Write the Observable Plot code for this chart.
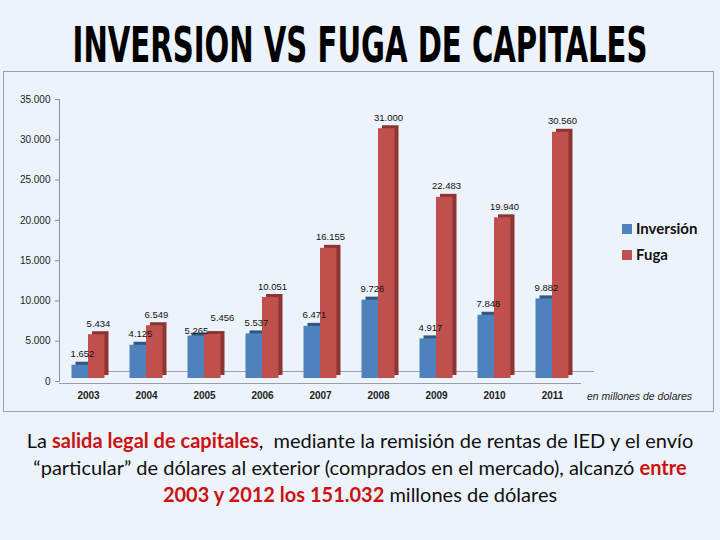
<!DOCTYPE html>
<html><head><meta charset="utf-8">
<script src="https://cdn.jsdelivr.net/npm/d3@7"></script>
<script src="https://cdn.jsdelivr.net/npm/@observablehq/plot@0.6"></script>
<style>
html,body{margin:0;padding:0;}
body{width:720px;height:540px;background:#edf3fa;position:relative;overflow:hidden;font-family:Lato,"Open Sans",sans-serif;}
#title{position:absolute;top:26px;left:0;width:720px;text-align:center;}
#title span{display:inline-block;font-family:"DejaVu Sans Condensed",sans-serif;font-weight:bold;font-size:32.4px;transform:scale(1,1.55);color:#000;}
#box{position:absolute;left:3px;top:71px;width:709px;height:339px;border:1px solid #9aa3ad;}
#chart{position:absolute;left:0;top:0;}
.leg{position:absolute;font-family:Lato,"Open Sans",sans-serif;font-weight:bold;font-size:15px;color:#111;white-space:nowrap;}
.leg i{display:inline-block;width:10px;height:10px;margin-right:4px;vertical-align:0px;}
#note{position:absolute;left:583px;top:318px;font-family:"Liberation Sans","DejaVu Sans",sans-serif;font-style:italic;font-size:10.5px;color:#222;white-space:nowrap;}
#caption{position:absolute;top:427px;left:0;width:720px;text-align:center;font-size:20px;line-height:27px;color:#111;white-space:nowrap;}
#caption b{color:#cc1111;}
</style></head>
<body>
<div id="title"><span>INVERSION VS FUGA DE CAPITALES</span></div>
<div id="box"><div id="chart"></div>
<div class="leg" style="left:618px;top:147px;"><i style="background:#4f81bd"></i>Inversión</div>
<div class="leg" style="left:618px;top:173px;"><i style="background:#c0504d"></i>Fuga</div>
<div id="note">en millones de dolares</div>
</div>
<div id="caption">La <b>salida legal de capitales</b>,&nbsp; mediante la remisión de rentas de IED y el envío<br>“particular” de dólares al exterior (comprados en el mercado), alcanzó <b>entre</b><br><b>2003 y 2012 los 151.032</b> millones de dólares</div>
<script>
const years = ["2003","2004","2005","2006","2007","2008","2009","2010","2011"];
const inversion = [1652, 4125, 5265, 5537, 6471, 9726, 4917, 7848, 9882];
const fuga = [5434, 6549, 5456, 10051, 16155, 31000, 22483, 19940, 30560];
const yTicks = [0, 5000, 10000, 15000, 20000, 25000, 30000, 35000];

const data = years.map((y, i) => ({year: y, inv: inversion[i], fuga: fuga[i]}));
const fmt = d3.formatLocale({decimal: ",", thousands: ".", grouping: [3], currency: ["$", ""]}).format(",d");
const close = d => Math.abs(d.fuga - d.inv) < 1500;
const apart = d => !close(d);

const chart = Plot.plot({
  width: 709, height: 339,
  marginTop: 27, marginBottom: 30, marginLeft: 55, marginRight: 132,
  style: {background: "transparent", fontFamily: "'Liberation Sans','DejaVu Sans',sans-serif", fontSize: "10px", color: "#222"},
  x: {domain: years, padding: 0, label: null},
  y: {domain: [0, 35000], label: null},
  marks: [
    Plot.frame({anchor: "left", stroke: "#8a9099"}),
    Plot.ruleY([0], {stroke: "#9aa0a8", dy: 2}),
    Plot.ruleY([0], {stroke: "#9aa0a8", dx: 13, dy: -10}),
    Plot.barY(data, {x: "year", y: "inv", fill: "#34577f", insetLeft: 12.5, insetRight: 29, dx: 4, dy: -6}),
    Plot.barY(data, {x: "year", y: "inv", fill: "#4f81bd", insetLeft: 12.5, insetRight: 29, dy: -3}),
    Plot.barY(data, {x: "year", y: "fuga", fill: "#8c3533", insetLeft: 29, insetRight: 12.5, dx: 4, dy: -6}),
    Plot.barY(data, {x: "year", y: "fuga", fill: "#c0504d", insetLeft: 29, insetRight: 12.5, dy: -3}),
    Plot.text(data, {filter: apart, x: "year", y: "inv", text: d => fmt(d.inv), dx: -6, dy: -14, fontSize: 9.5, fill: "#111"}),
    Plot.text(data, {filter: apart, x: "year", y: "fuga", text: d => fmt(d.fuga), dx: 10, dy: -14, fontSize: 9.5, fill: "#111"}),
    Plot.text(data, {filter: close, x: "year", y: "inv", text: d => fmt(d.inv), dx: -8, dy: -8, fontSize: 9.5, fill: "#111"}),
    Plot.text(data, {filter: close, x: "year", y: "fuga", text: d => fmt(d.fuga), dx: 18, dy: -20, fontSize: 9.5, fill: "#111"}),
    Plot.axisX({tickSize: 0, tickPadding: 10, fontWeight: "bold", fontSize: 10}),
    Plot.axisY({ticks: yTicks, tickFormat: fmt, tickSize: 4, tickPadding: 5, stroke: "#8a9099"})
  ]
});
document.getElementById("chart").appendChild(chart);
</script>
</body></html>
